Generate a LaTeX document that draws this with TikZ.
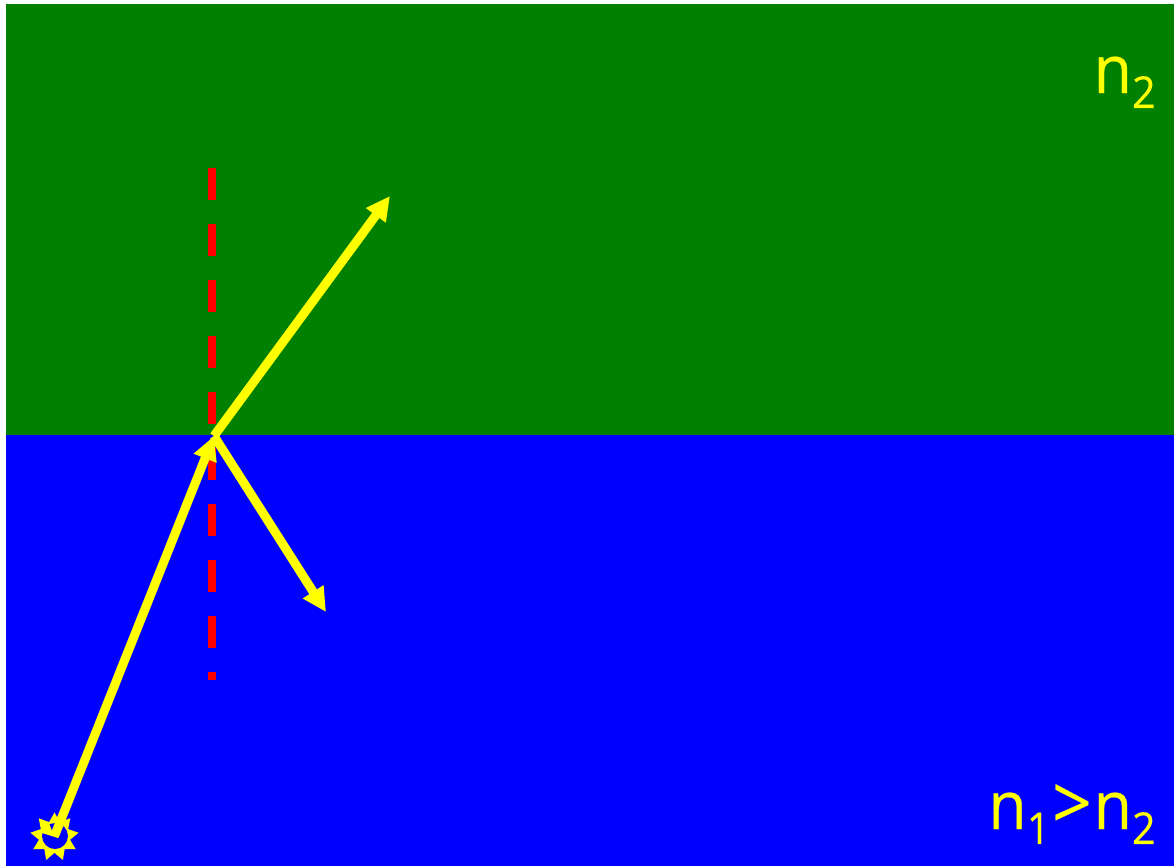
\documentclass[tikz,border=0pt]{standalone}
\usepackage{fontspec}
\setmainfont[FakeStretch=0.94]{Open Sans}
\usepackage{tikz}
\usetikzlibrary{arrows.meta,shapes.geometric}
\definecolor{mediumgreen}{RGB}{0,128,0}
\definecolor{purered}{RGB}{255,0,0}
\definecolor{pureblue}{RGB}{0,0,255}
\definecolor{sunyellow}{RGB}{255,255,0}
\newcommand{\lowidx}[1]{\raisebox{-8.5pt}{\fontsize{25}{25}\selectfont\addfontfeature{FakeBold=0.4}#1}}
\begin{document}
\begin{tikzpicture}[x=0.02cm,y=-0.02cm,
    ray/.style={draw=sunyellow,line width=0.18cm,-{Triangle[length=0.48cm,width=0.46cm]}},
    lbl/.style={text=sunyellow,inner sep=0pt,anchor=base east,font=\fontsize{38}{38}\selectfont\addfontfeature{FakeBold=0.3}}]
  \useasboundingbox (0,0) rectangle (1174,866);
  \node[fill=mediumgreen,inner sep=0pt,minimum width=23.36cm,minimum height=8.62cm,anchor=north west] (upper) at (6,4) {};
  \node[fill=pureblue,inner sep=0pt,minimum width=23.36cm,minimum height=8.62cm,anchor=north west] (lower) at (6,435) {};
  \coordinate (top) at (212,168);
  \coordinate (bottom) at (212,680);
  \draw[purered,line width=0.16cm,dash pattern=on 0.64cm off 0.48cm] (top) -- (bottom);
  \node[star,star points=9,star point ratio=1.55,minimum size=0.98cm,inner sep=0pt,fill=sunyellow] (sun) at (54.5,837) {};
  \node[circle,fill=pureblue,minimum size=0.52cm,inner sep=0pt] (core) at (55,836) {};
  \fill[sunyellow] (42,833) -- (58,838) -- (60,825) -- (55,825) -- (52,831) -- (49,823) -- (44,826) -- cycle;
  \coordinate (hit) at (214,436);
  \coordinate (src) at (54.5,836);
  \coordinate (refr) at (390,196);
  \coordinate (refl) at (326,612);
  \draw[ray] (src) -- (hit);
  \draw[ray] (hit) -- (refr);
  \draw[ray] (hit) -- (refl);
  \node[lbl] (ntwo) at (1156,93) {n\lowidx{2}};
  \node[lbl] (none) at (1156,829) {n\lowidx{1}\hspace{1pt}{\fontsize{42}{42}\selectfont >}\hspace{1pt}n\lowidx{2}};
\end{tikzpicture}
\end{document}
